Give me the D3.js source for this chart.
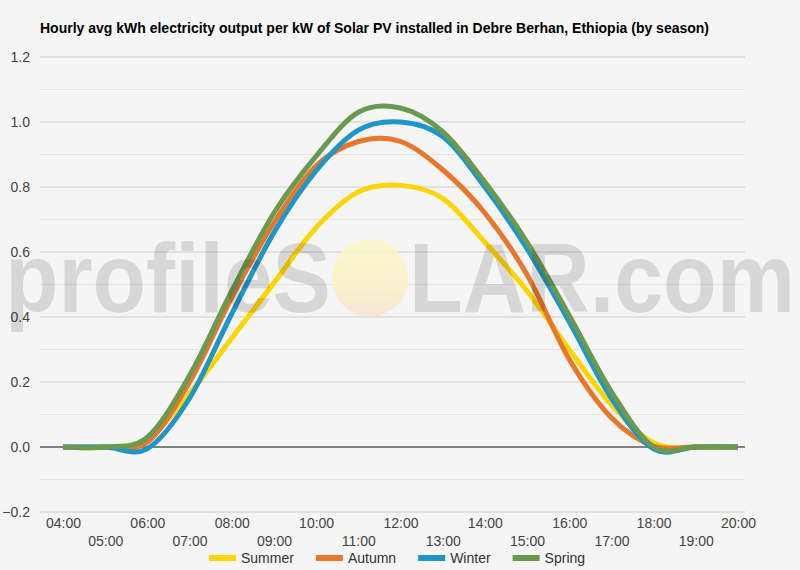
<!DOCTYPE html>
<html>
<head>
<meta charset="utf-8">
<script src="https://cdn.jsdelivr.net/npm/d3@7"></script>
<style>
  body { margin: 0; background: #f5f5f5; }
  text { font-family: Arial, "Liberation Sans", sans-serif; }
</style>
</head>
<body>
<div id="canvas"></div>
<script>
const hours = ['04:00', '05:00', '06:00', '07:00', '08:00', '09:00', '10:00', '11:00', '12:00',
               '13:00', '14:00', '15:00', '16:00', '17:00', '18:00', '19:00', '20:00']
const seasons = ['Summer', 'Autumn', 'Winter', 'Spring']
const summer = [0, 0, 0.025, 0.165, 0.335, 0.505, 0.675, 0.785, 0.805, 0.765, 0.63, 0.48, 0.30, 0.13, 0.012, 0, 0]
const autumn = [0, 0, 0.015, 0.20, 0.46, 0.69, 0.865, 0.94, 0.94, 0.853, 0.72, 0.53, 0.27, 0.09, 0.003, 0, 0]
const winter = [0, 0, -0.005, 0.15, 0.41, 0.66, 0.85, 0.975, 1.0, 0.955, 0.80, 0.61, 0.385, 0.15, -0.006, 0, 0]
const spring = [0, 0, 0.03, 0.22, 0.48, 0.72, 0.895, 1.03, 1.043, 0.97, 0.815, 0.63, 0.405, 0.17, 0, 0, 0]
const yTicks = [-0.2, 0, 0.2, 0.4, 0.6, 0.8, 1.0, 1.2]
const colors = ['#ffd500', '#e8762b', '#1e96c8', '#6a9a4f']
const title = 'Hourly avg kWh electricity output per kW of Solar PV installed in Debre Berhan, Ethiopia (by season)'

const series = [summer, autumn, winter, spring]
const width = 800
const height = 570
const plot = {left: 40, right: 745, top: 57, bottom: 512}

const svg = d3.select('#canvas')
    .append('svg')
    .attr('width', width)
    .attr('height', height)

svg.append('rect')
    .attr('width', width)
    .attr('height', height)
    .attr('fill', '#f5f5f5')

svg.append('text')
    .attr('x', 40)
    .attr('y', 33)
    .attr('font-size', 14)
    .attr('font-weight', 'bold')
    .attr('fill', '#000')
    .text(title)

const xScale = d3.scalePoint()
    .domain(hours)
    .range([63, 738])

const yScale = d3.scaleLinear()
    .domain([-0.2, 1.2])
    .range([plot.bottom, plot.top])

// gridlines: every 0.1, darker at labelled ticks
const grid = d3.range(-2, 13).map(i => i / 10)
svg.append('g').selectAll('line')
    .data(grid).enter()
    .append('line')
    .attr('x1', plot.left)
    .attr('x2', plot.right)
    .attr('y1', d => yScale(d))
    .attr('y2', d => yScale(d))
    .attr('stroke', (d, i) => i % 2 === 0 ? '#cccccc' : '#e4e4e4')
    .attr('stroke-width', 1)

svg.append('line')
    .attr('x1', plot.left)
    .attr('x2', plot.right)
    .attr('y1', yScale(0))
    .attr('y2', yScale(0))
    .attr('stroke', '#222')
    .attr('stroke-width', 1)

// y axis labels
const yAxis = svg.append('g')
    .attr('transform', `translate(${plot.left - 7},0)`)
    .call(d3.axisLeft(yScale).tickValues(yTicks).tickFormat(d3.format('.1f')).tickSize(0))
yAxis.select('.domain').remove()
yAxis.selectAll('text')
    .attr('font-size', 14)
    .attr('fill', '#444')
    .attr('font-family', 'Arial, "Liberation Sans", sans-serif')

// x axis labels, two staggered rows
const xAxis = svg.append('g')
    .attr('transform', `translate(0,${plot.bottom})`)
    .call(d3.axisBottom(xScale).tickSize(0))
xAxis.select('.domain').remove()
xAxis.selectAll('text')
    .attr('font-size', 14)
    .attr('fill', '#444')
    .attr('font-family', 'Arial, "Liberation Sans", sans-serif')
    .attr('y', (d, i) => i % 2 === 0 ? 6 : 24)

const line = d3.line()
    .x((d, i) => xScale(hours[i]))
    .y(d => yScale(d))
    .curve(d3.curveCardinal.tension(0))

svg.append('g').selectAll('path')
    .data(series).enter()
    .append('path')
    .attr('d', d => line(d))
    .attr('fill', 'none')
    .attr('stroke', (d, i) => colors[i])
    .attr('stroke-width', 5)
    .attr('stroke-linejoin', 'round')

// watermark on top
const defs = svg.append('defs')
const grad = defs.append('linearGradient')
    .attr('id', 'sun')
    .attr('x1', 0).attr('y1', 0).attr('x2', 0).attr('y2', 1)
grad.append('stop').attr('offset', '0%').attr('stop-color', '#fbf7c4')
grad.append('stop').attr('offset', '60%').attr('stop-color', '#faf1c6')
grad.append('stop').attr('offset', '100%').attr('stop-color', '#f7e2cf')

const mark = svg.append('g').attr('pointer-events', 'none')
mark.append('ellipse')
    .attr('cx', 370)
    .attr('cy', 278)
    .attr('rx', 38)
    .attr('ry', 39)
    .attr('fill', 'url(#sun)')
    .attr('opacity', 0.85)
mark.append('text')
    .attr('x', 5)
    .attr('y', 312)
    .attr('font-size', 98)
    .attr('font-weight', 'bold')
    .attr('textLength', 326)
    .attr('lengthAdjust', 'spacingAndGlyphs')
    .attr('fill', '#000')
    .attr('fill-opacity', 0.12)
    .text('profileS')
mark.append('text')
    .attr('x', 409)
    .attr('y', 312)
    .attr('font-size', 98)
    .attr('font-weight', 'bold')
    .attr('textLength', 386)
    .attr('lengthAdjust', 'spacingAndGlyphs')
    .attr('fill', '#000')
    .attr('fill-opacity', 0.12)
    .text('LAR.com')

// legend
const legend = svg.append('g')
    .attr('transform', 'translate(209,558)')
let lx = 0
seasons.forEach((s, i) => {
    const item = legend.append('g').attr('transform', `translate(${lx},0)`)
    item.append('rect')
        .attr('x', 0)
        .attr('y', -3)
        .attr('width', 27)
        .attr('height', 6)
        .attr('fill', colors[i])
    const t = item.append('text')
        .attr('x', 32)
        .attr('y', 5)
        .attr('font-size', 14)
        .attr('fill', '#333')
        .text(s)
    lx += 32 + t.node().getComputedTextLength() + 22
})
</script>
</body>
</html>
